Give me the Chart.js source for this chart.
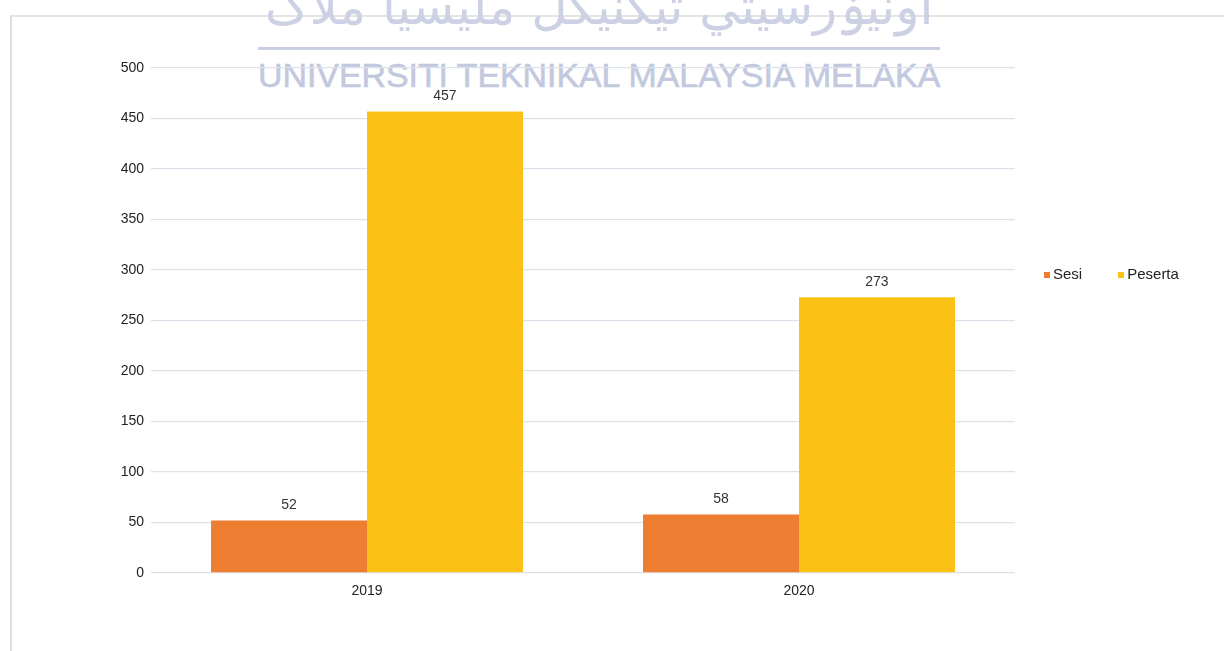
<!DOCTYPE html>
<html>
<head>
<meta charset="utf-8">
<script src="https://cdn.jsdelivr.net/npm/chart.js@4/dist/chart.umd.min.js"></script>
<style>
body{margin:0;width:1224px;height:651px;overflow:hidden;background:#fff;position:relative;font-family:"Liberation Sans",Arial,sans-serif;}
#frame{position:absolute;left:10px;top:15px;width:1230px;height:660px;border-left:2px solid #dcdcdc;border-top:2px solid #e4e4e4;}
#wrap{position:absolute;left:0;top:0;width:1224px;height:651px;}
#jawi{position:absolute;left:258px;top:-22px;width:682px;text-align:center;font-family:"DejaVu Sans",sans-serif;font-size:50px;color:#ccd1e3;direction:rtl;white-space:nowrap;}
#wline{position:absolute;left:258px;top:47px;width:682px;height:3px;background:#c9cee3;}
#wtext{position:absolute;left:258px;top:58px;font-size:34px;line-height:34px;color:#c2c8de;white-space:nowrap;transform-origin:0 0;-webkit-text-stroke:0.6px #c2c8de;}
#legend{position:absolute;left:1044px;top:265px;font-size:15px;color:#222;white-space:nowrap;}
#legend span.item{margin-right:36px;}
#legend span.box{display:inline-block;width:6px;height:6px;margin-right:3px;vertical-align:1px;}
</style>
</head>
<body>
<div id="frame"></div>
<div id="jawi">اونيۏرسيتي تيکنيکل مليسيا ملاک</div>
<div id="wline"></div>
<div id="wtext">UNIVERSITI TEKNIKAL MALAYSIA MELAKA</div>
<div id="wrap"><canvas id="chart" width="1224" height="651"></canvas></div>
<div id="legend"></div>
<script>
//Data
var years = ["2019","2020"];
var sesi = [52,58];
var peserta = [457,273];
var seriesNames = ["Sesi","Peserta"];
var seriesColors = ["#ED7D31","#FBC114"];
var yTicks = [0,50,100,150,200,250,300,350,400,450,500];

//Watermark width
var wt = document.getElementById("wtext");
wt.style.transform = "scaleX(" + (682 / wt.offsetWidth) + ")";

//Value labels
var valueLabels = {
	id:'valueLabels',
	afterDatasetsDraw:function(chart){
		var ctx = chart.ctx;
		ctx.save();
		ctx.font = "14px 'Liberation Sans', Arial, sans-serif";
		ctx.fillStyle = "#333";
		ctx.textAlign = "center";
		ctx.textBaseline = "bottom";
		chart.data.datasets.forEach(function(ds,i){
			chart.getDatasetMeta(i).data.forEach(function(bar,j){
				ctx.fillText(ds.data[j], bar.x, bar.y - 8);
			});
		});
		ctx.restore();
	}
};

var cData = [sesi,peserta];
var chart = new Chart(document.getElementById("chart"),{
	type:'bar',
	data:{
		labels:years,
		datasets:seriesNames.map(function(n,i){
			return {label:n,data:cData[i],backgroundColor:seriesColors[i],borderWidth:0,barPercentage:1,categoryPercentage:0.722};
		})
	},
	options:{
		responsive:false,
		animation:false,
		layout:{padding:{top:68,right:209,bottom:0,left:0}},
		plugins:{legend:{display:false},tooltip:{enabled:false}},
		scales:{
			x:{
				grid:{display:false,drawTicks:false},
				border:{display:false},
				ticks:{color:"#222",font:{family:"'Liberation Sans', Arial",size:14},padding:10},
				afterFit:function(s){s.height = 78;}
			},
			y:{
				min:0,max:500,
				afterBuildTicks:function(s){s.ticks = yTicks.map(function(v){return {value:v};});},
				grid:{color:"#dce2e9",drawTicks:false,lineWidth:1.3},
				border:{display:false},
				ticks:{color:"#222",font:{family:"'Liberation Sans', Arial",size:14},padding:7},
				afterFit:function(s){s.width = 151;}
			}
		}
	},
	plugins:[valueLabels]
});

//Legend
var lg = document.getElementById("legend");
seriesNames.forEach(function(n,i){
	lg.innerHTML += '<span class="item"><span class="box" style="background:' + seriesColors[i] + '"></span>' + n + '</span>';
});
</script>
</body>
</html>
